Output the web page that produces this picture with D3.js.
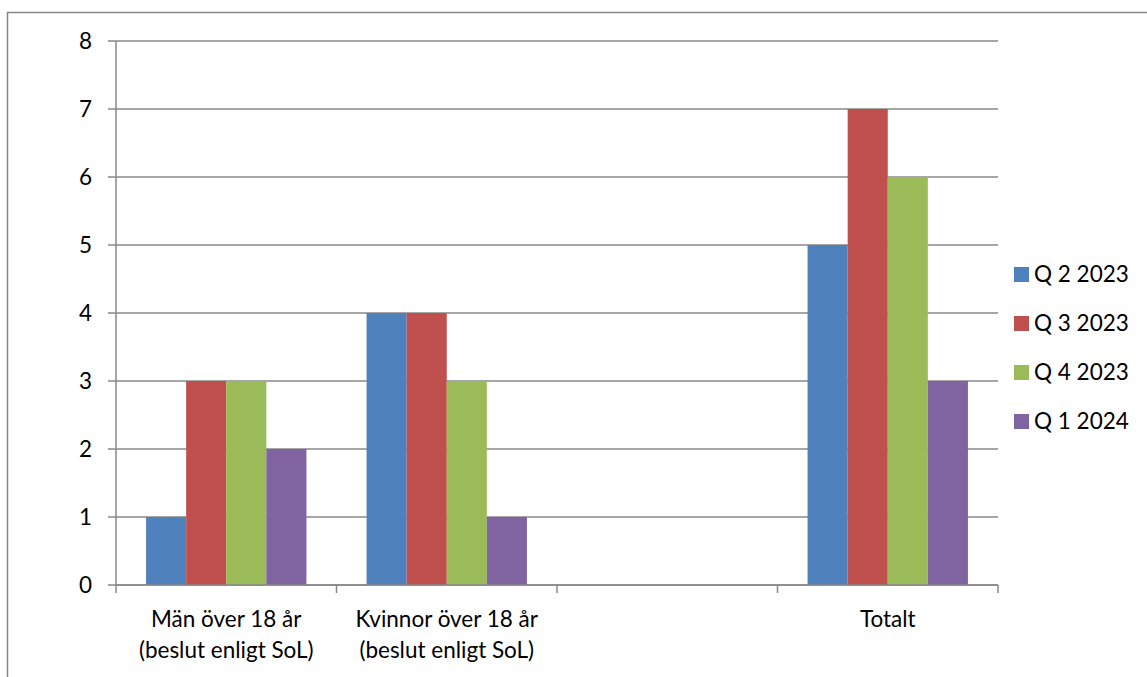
<!DOCTYPE html>
<html lang="sv">
<head>
    <meta charset="utf-8">
    <script src="https://d3js.org/d3.v7.min.js"></script>
    <style>
        body { margin: 0; background: #fff; }
        svg text { font-family: Lato, "Open Sans", sans-serif; fill: #000; }
    </style>
</head>
<body>
<script>
    // chart data
    const categories = [
        ["Män över 18 år", "(beslut enligt SoL)"],
        ["Kvinnor över 18 år", "(beslut enligt SoL)"],
        [""],
        ["Totalt"]
    ];
    const seriesNames = ["Q 2 2023", "Q 3 2023", "Q 4 2023", "Q 1 2024"];
    const q2_2023 = [1, 4, null, 5];
    const q3_2023 = [3, 4, null, 7];
    const q4_2023 = [3, 3, null, 6];
    const q1_2024 = [2, 1, null, 3];
    const yTicks = [0, 1, 2, 3, 4, 5, 6, 7, 8];

    const seriesValues = [q2_2023, q3_2023, q4_2023, q1_2024];
    const colors = ["#4F81BD", "#C0504D", "#9BBB59", "#8064A2"];

    const W = 1147, H = 677;
    const plotLeft = 116, plotRight = 998, plotTop = 41, plotBottom = 585;
    const fontSize = 22.5;

    const svg = d3.select("body").append("svg")
        .attr("width", W)
        .attr("height", H);

    // outer frame
    svg.append("rect")
        .attr("x", 7.5).attr("y", 12.5)
        .attr("width", W).attr("height", H)
        .attr("fill", "none")
        .attr("stroke", "#868686")
        .attr("stroke-width", 1.5);

    const idx = d3.range(categories.length);
    const x = d3.scaleBand().domain(idx).range([plotLeft, plotRight]).padding(0);
    const x1 = d3.scaleBand().domain(d3.range(seriesNames.length))
        .range([0, x.bandwidth()]).paddingInner(0).paddingOuter(0.75);
    const y = d3.scaleLinear().domain([0, 8]).range([plotBottom, plotTop]);

    // gridlines
    svg.append("g").selectAll("line")
        .data(yTicks)
        .join("line")
        .attr("x1", plotLeft - 8).attr("x2", plotRight)
        .attr("y1", d => y(d)).attr("y2", d => y(d))
        .attr("stroke", "#888")
        .attr("stroke-width", 1.5);

    // y axis line
    svg.append("line")
        .attr("x1", plotLeft).attr("x2", plotLeft)
        .attr("y1", plotTop).attr("y2", plotBottom)
        .attr("stroke", "#888").attr("stroke-width", 1.5);

    svg.append("g").selectAll("text")
        .data(yTicks)
        .join("text")
        .attr("x", 92)
        .attr("y", d => y(d))
        .attr("dy", "0.36em")
        .attr("text-anchor", "end")
        .attr("font-size", fontSize)
        .text(d => d);

    // bars
    const groups = svg.append("g").selectAll("g")
        .data(idx)
        .join("g")
        .attr("transform", i => `translate(${x(i)},0)`);

    groups.selectAll("rect")
        .data(i => seriesValues.map((s, j) => ({ j, v: s[i] })).filter(d => d.v != null && d.v > 0))
        .join("rect")
        .attr("x", d => x1(d.j))
        .attr("width", x1.bandwidth())
        .attr("y", d => y(d.v))
        .attr("height", d => y(0) - y(d.v))
        .attr("fill", d => colors[d.j]);

    // x axis
    svg.append("line")
        .attr("x1", plotLeft).attr("x2", plotRight)
        .attr("y1", plotBottom).attr("y2", plotBottom)
        .attr("stroke", "#888").attr("stroke-width", 1.5);

    svg.append("g").selectAll("line")
        .data(d3.range(categories.length + 1))
        .join("line")
        .attr("x1", i => plotLeft + i * x.bandwidth())
        .attr("x2", i => plotLeft + i * x.bandwidth())
        .attr("y1", plotBottom).attr("y2", plotBottom + 8)
        .attr("stroke", "#888").attr("stroke-width", 1.5);

    const labels = svg.append("g").selectAll("text")
        .data(idx)
        .join("text")
        .attr("text-anchor", "middle")
        .attr("font-size", fontSize)
        .attr("x", i => x(i) + x.bandwidth() / 2)
        .attr("y", 627);
    labels.selectAll("tspan")
        .data(i => categories[i].map(t => ({ t, cx: x(i) + x.bandwidth() / 2 })))
        .join("tspan")
        .attr("x", d => d.cx)
        .attr("dy", (d, k) => k === 0 ? 0 : 31)
        .text(d => d.t);

    // legend
    const legend = svg.append("g").selectAll("g")
        .data(seriesNames)
        .join("g")
        .attr("transform", (d, i) => `translate(1014,${274 + i * 49})`);
    legend.append("rect")
        .attr("x", 0).attr("y", -7)
        .attr("width", 15).attr("height", 15)
        .attr("fill", (d, i) => colors[i]);
    legend.append("text")
        .attr("x", 20)
        .attr("dy", "0.36em")
        .attr("font-size", fontSize)
        .text(d => d);
</script>
</body>
</html>
